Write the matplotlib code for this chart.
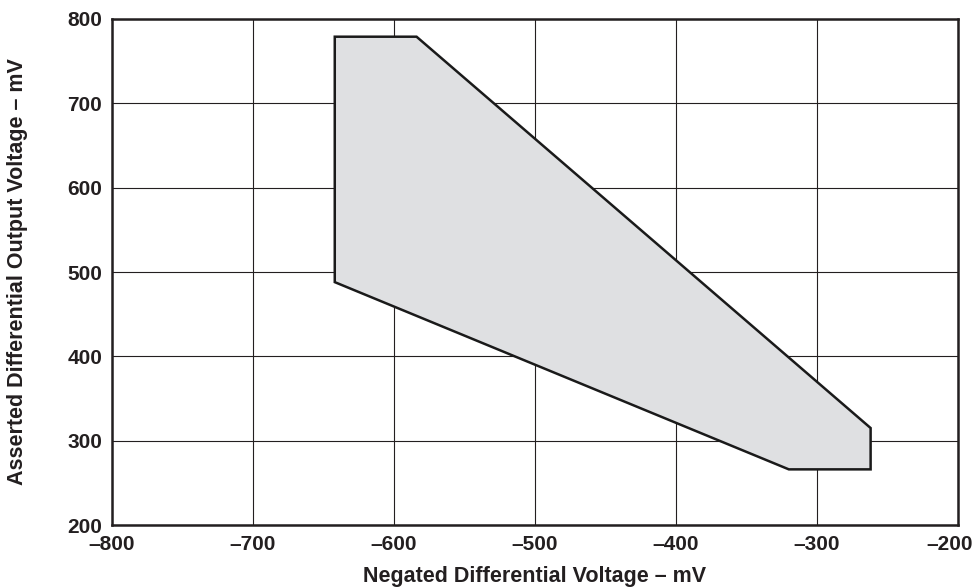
import matplotlib.pyplot as plt
import matplotlib.transforms as mtransforms
from matplotlib.patches import Polygon

# Boundary of the valid region (negated differential V, asserted output V), mV
neg_mv = [-642, -584, -262, -262, -320, -642]
out_mv = [779, 779, 315, 266, 266, 488]

x_ticks = [-800, -700, -600, -500, -400, -300, -200]
y_ticks = [200, 300, 400, 500, 600, 700, 800]

plt.rcParams['font.family'] = ['Liberation Sans', 'DejaVu Sans']
plt.rcParams['font.weight'] = 'bold'

fig = plt.figure(figsize=(9.77, 5.88), dpi=100)
ax = fig.add_axes([0.1146, 0.1071, 0.8660, 0.8606])

region = Polygon(list(zip(neg_mv, out_mv)), closed=True,
                 facecolor='#dfe0e2', edgecolor='#1a1a1a', linewidth=1.8, zorder=3)
ax.add_patch(region)

ax.set_xlim(-800, -200)
ax.set_ylim(200, 800)
ax.set_xticks(x_ticks)
ax.set_yticks(y_ticks)
ax.set_xticklabels([f'\u2013{abs(v)}' for v in x_ticks])
ax.set_yticklabels([str(v) for v in y_ticks])
ax.tick_params(length=0, labelsize=15, colors='#231f20')
ax.tick_params(axis='x', pad=7)
ax.tick_params(axis='y', pad=7)

# last x label sits a bit left so it stays inside the figure
last = ax.get_xticklabels()[-1]
last.set_transform(last.get_transform() +
                   mtransforms.ScaledTranslation(-8 / 100, 0, fig.dpi_scale_trans))

ax.grid(True, color='#231f20', linewidth=0.8, zorder=1)
ax.set_axisbelow(True)
for s in ax.spines.values():
    s.set_linewidth(1.8)
    s.set_color('#231f20')

ax.set_xlabel('Negated Differential Voltage \u2013 mV', fontsize=15.5,
              fontweight='bold', color='#231f20', labelpad=9)
ax.set_ylabel('Asserted Differential Output Voltage \u2013 mV', fontsize=15.5,
              fontweight='bold', color='#231f20', labelpad=28)

fig.savefig('out.png', dpi=100)
